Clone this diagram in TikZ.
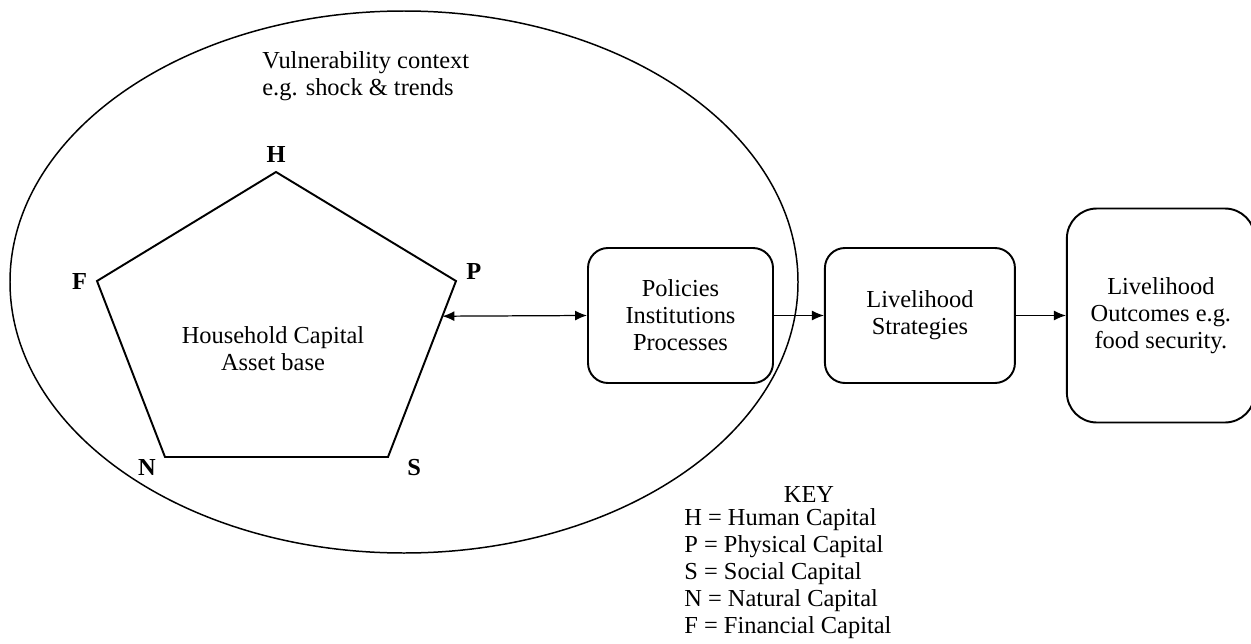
\documentclass[tikz,border=0pt]{standalone}
\usepackage{fontspec}
\setmainfont{Liberation Serif}
\usetikzlibrary{positioning,arrows.meta,calc}
\tikzset{>={Latex[length=2.4mm,width=2mm]},
node distance=1cm,
txt/.style={font=\fontsize{13.9}{15.3}\selectfont,inner sep=0pt,align=center},
lbl/.style={inner sep=0pt,font=\fontsize{13.9}{15.3}\selectfont\bfseries},
bx/.style={txt,draw,line width=1.1pt,rounded corners=0.4cm},
ln/.style={->,line width=0.7pt},
}
\begin{document}
\begin{tikzpicture}
	\useasboundingbox (0,0) rectangle (25.02,12.86);
	\draw[line width=0.85pt] (8.08,7.22) ellipse [x radius=7.88,y radius=5.42];
	\node[txt,align=left,anchor=west] (vc) at (5.24,11.33) {Vulnerability context\\e.g. shock \& trends};

	\coordinate (H) at (5.52,9.42);
	\coordinate (P) at (9.12,7.24);
	\coordinate (S) at (7.76,3.72);
	\coordinate (N) at (3.30,3.72);
	\coordinate (F) at (1.94,7.24);
	\draw[line width=1.1pt,line join=miter] (H) -- (P) -- (S) -- (N) -- (F) -- cycle;
	\node[lbl,above=0.19cm of H] (h) {H};
	\node[lbl,above right=0.02cm and 0.2cm of P] (p) {P};
	\node[lbl,below right=0.04cm and 0.38cm of S] (s) {S};
	\node[lbl,below left=0.04cm and 0.18cm of N] (n) {N};
	\node[lbl,left=0.19cm of F] (f) {F};
	\node[txt] (hh) at (5.46,5.88) {Household Capital\\Asset base};

	\node[bx,minimum width=3.7cm,minimum height=2.7cm] (pip) at (13.61,6.55) {Policies\\Institutions\\Processes};
	\node[bx,minimum width=3.8cm,minimum height=2.7cm,right=of pip] (ls) {Livelihood\\Strategies};
	\node[bx,minimum width=3.76cm,minimum height=4.28cm,rounded corners=0.6cm,right=of ls] (lo) {Livelihood\\Outcomes e.g.\\food security.};

	\coordinate (pa) at ($(P)!0.2!(S)$);
	\draw[ln,<->] (pa) -- (pip.west);
	\draw[ln] (pip) -- (ls);
	\draw[ln] (ls) -- (lo);

	\node[txt] (key) at (16.18,2.98) {KEY};
	\node[txt,align=left,anchor=west] (kl) at (13.68,1.39) {H = Human Capital\\P = Physical Capital\\S = Social Capital\\N = Natural Capital\\F = Financial Capital};
\end{tikzpicture}
\end{document}
